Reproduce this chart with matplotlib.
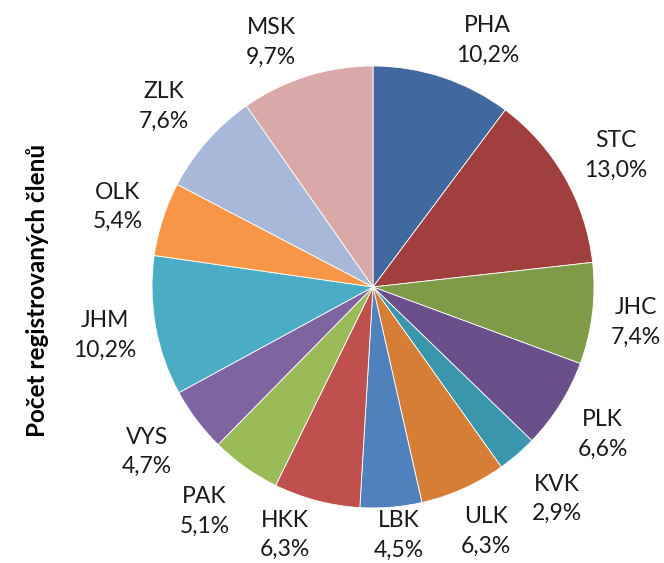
import numpy as np
import matplotlib
matplotlib.use("Agg")
import matplotlib.pyplot as plt

categories = ["PHA", "STC", "JHC", "PLK", "KVK", "ULK", "LBK", "HKK",
              "PAK", "VYS", "JHM", "OLK", "ZLK", "MSK"]
shares = [10.2, 13.0, 7.4, 6.6, 2.9, 6.3, 4.5, 6.3, 5.1, 4.7, 10.2, 5.4, 7.6, 9.7]
colors = ["#41699F", "#A03F3D", "#7F9B48", "#6A4F8A", "#3A96AD", "#D67E35",
          "#4F81BD", "#C0504D", "#9BBB59", "#8064A2", "#4BACC6", "#F79646",
          "#A7B8D9", "#D9A9A8"]
ylabel = "Počet registrovaných členů"

# label layout (radial distance in radii, angular nudge in degrees)
label_dist = [1.23, 1.25, 1.20, 1.235, 1.27, 1.22, 1.13, 1.19,
              1.27, 1.265, 1.233, 1.212, 1.25, 1.20]
label_nudge = [-6.6, -1.3, -0.8, -0.6, 0.3, 0.7, 1.3, -4.7,
               -1.6, -0.9, 0.0, 0.5, 0.6, 5.1]

W, H = 664, 563
cx, cy, R = 373, 287, 221

fig = plt.figure(figsize=(W / 100, H / 100), dpi=100)
ax = fig.add_axes([0, 0, 1, 1])
wedges, _ = ax.pie(shares, colors=colors, startangle=90, counterclock=False,
                   wedgeprops=dict(linewidth=0.6, edgecolor="white"))
ax.set_xlim(-cx / R, (W - cx) / R)
ax.set_ylim(-(H - cy) / R, cy / R)
ax.set_aspect("auto")
ax.axis("off")

font = "Lato"
for w, cat, val, d, nud in zip(wedges, categories, shares, label_dist, label_nudge):
    ang = np.deg2rad((w.theta1 + w.theta2) / 2 + nud)
    ax.text(d * np.cos(ang), d * np.sin(ang),
            f"{cat}\n{val:.1f}%".replace(".", ","),
            ha="center", va="center", fontsize=16.5, family=font,
            color="#1a1a1a", linespacing=1.5)

fig.text(38 / W, 1 - 290 / H, ylabel, rotation=90, ha="center", va="center",
         fontsize=17.5, fontweight="bold", family=font)

fig.savefig("out.png", dpi=100)
